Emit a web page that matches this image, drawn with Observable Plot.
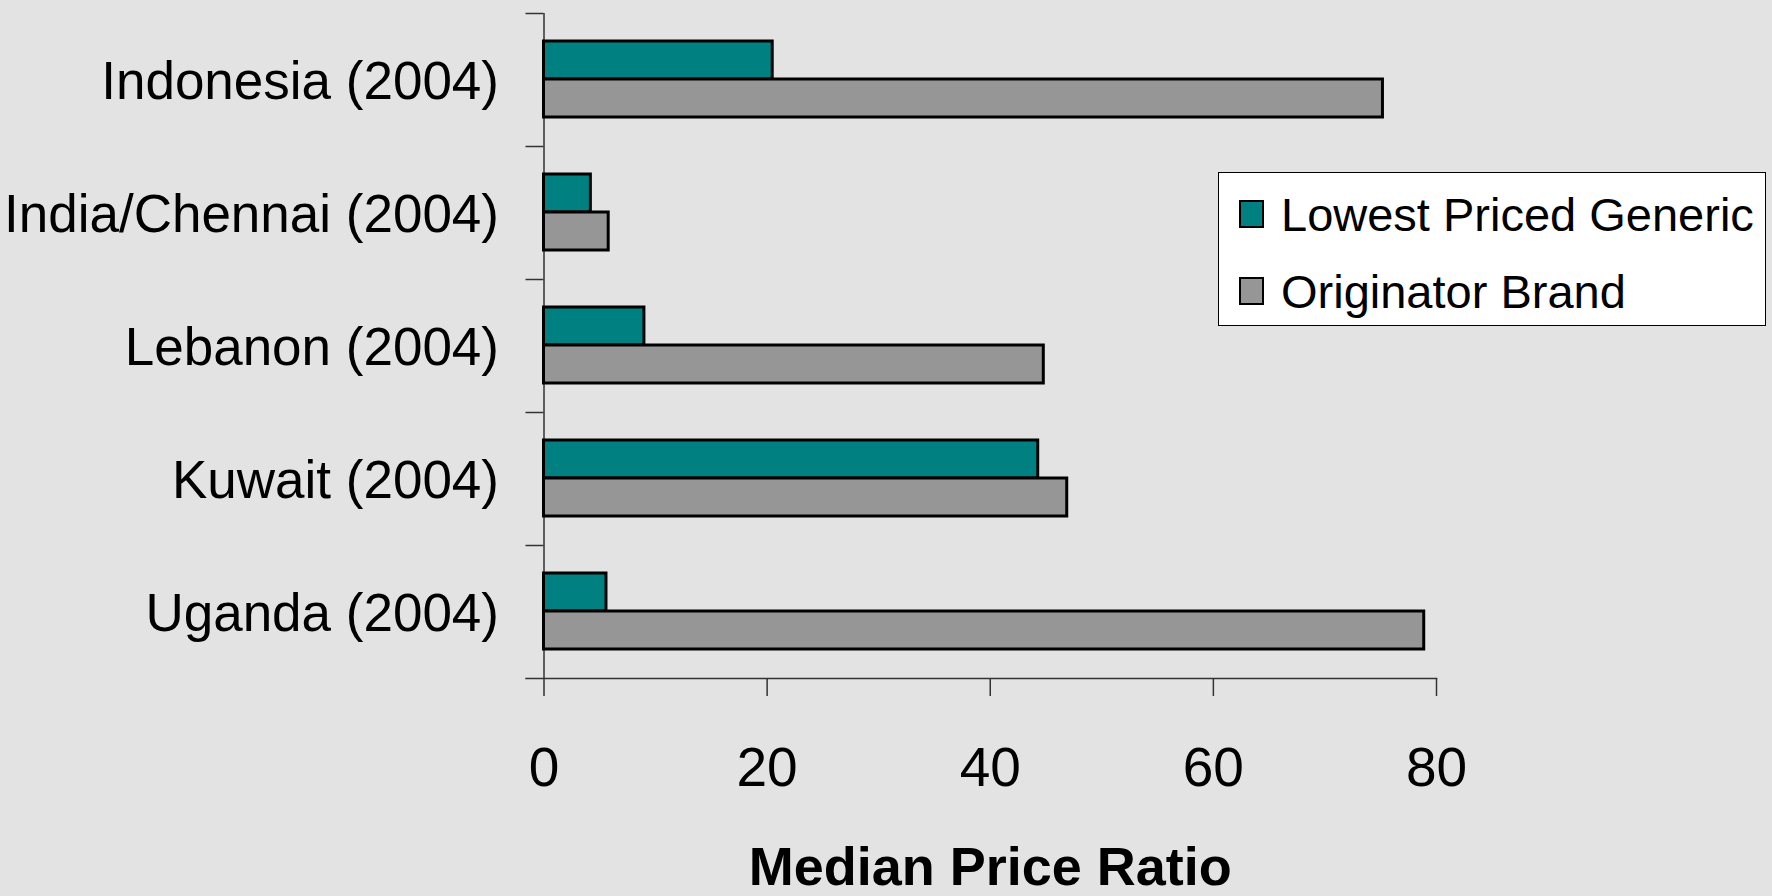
<!DOCTYPE html>
<html>
<head>
<meta charset="utf-8">
<script src="https://cdn.jsdelivr.net/npm/d3@7"></script>
<script src="https://cdn.jsdelivr.net/npm/@observablehq/plot@0.6"></script>
<style>
  html, body { margin: 0; padding: 0; background: #e3e3e3; }
  #wrap { position: relative; width: 1772px; height: 896px; overflow: hidden; font-family: "Liberation Sans", Arial, sans-serif; }
  #legend { position: absolute; left: 1218px; top: 172px; width: 546px; height: 152px; background: #fff; border: 1px solid #000; }
  .item { position: absolute; left: 20px; height: 40px; display: flex; align-items: center; font-size: 47px; color: #000; white-space: nowrap; }
  .sw { width: 21px; height: 24px; border: 2px solid #000; margin-right: 17px; flex: none; }
</style>
</head>
<body>
<div id="wrap"></div>
<script>
const countries = ["Indonesia (2004)", "India/Chennai (2004)", "Lebanon (2004)", "Kuwait (2004)", "Uganda (2004)"];
const genericValues = [20.5, 4.2, 9.0, 44.3, 5.6];
const brandValues = [75.2, 5.8, 44.8, 46.9, 78.9];
const seriesNames = ["Lowest Priced Generic", "Originator Brand"];
const seriesColors = ["#008080", "#969696"];
const xTicks = [0, 20, 40, 60, 80];
const xLabel = "Median Price Ratio";

const generic = countries.map((c, i) => ({country: c, value: genericValues[i]}));
const brand = countries.map((c, i) => ({country: c, value: brandValues[i]}));

const chart = Plot.plot({
  width: 1772,
  height: 896,
  marginLeft: 543.5,
  marginRight: 336,
  marginTop: 13,
  marginBottom: 218,
  style: {background: "transparent", fontFamily: "'Liberation Sans', Arial, sans-serif", color: "#000", overflow: "visible"},
  x: {domain: [0, 80]},
  y: {domain: countries, padding: 0},
  marks: [
    Plot.ruleX([0], {stroke: "#333", strokeWidth: 1.5}),
    Plot.frame({anchor: "bottom", insetLeft: -18, stroke: "#333", strokeWidth: 1.5}),
    Plot.axisY({tickSize: 18, tickFormat: () => "", dy: -66.5, stroke: "#333", strokeWidth: 1.5, label: null}),
    Plot.axisY({tickSize: 0, tickPadding: 45, fontSize: 53, dy: 2, label: null}),
    Plot.axisX({ticks: xTicks, tickSize: 18, tickPadding: 50, fontSize: 55, stroke: "#333", strokeWidth: 1.5, label: null}),
    Plot.barX(generic, {y: "country", x: "value", fill: seriesColors[0], stroke: "#000", strokeWidth: 3, insetTop: 28, insetBottom: 67}),
    Plot.barX(brand, {y: "country", x: "value", fill: seriesColors[1], stroke: "#000", strokeWidth: 3, insetTop: 66, insetBottom: 29}),
    Plot.text([xLabel], {text: d => d, frameAnchor: "bottom", dy: 206, fontSize: 54, fontWeight: "bold", fill: "#000"})
  ]
});

const wrap = document.getElementById("wrap");
wrap.appendChild(chart);

const legend = document.createElement("div");
legend.id = "legend";
const tops = [21, 98];
seriesNames.forEach((name, i) => {
  const item = document.createElement("div");
  item.className = "item";
  item.style.top = tops[i] + "px";
  const sw = document.createElement("span");
  sw.className = "sw";
  sw.style.background = seriesColors[i];
  const t = document.createElement("span");
  t.textContent = name;
  item.appendChild(sw);
  item.appendChild(t);
  legend.appendChild(item);
});
wrap.appendChild(legend);
</script>
</body>
</html>
